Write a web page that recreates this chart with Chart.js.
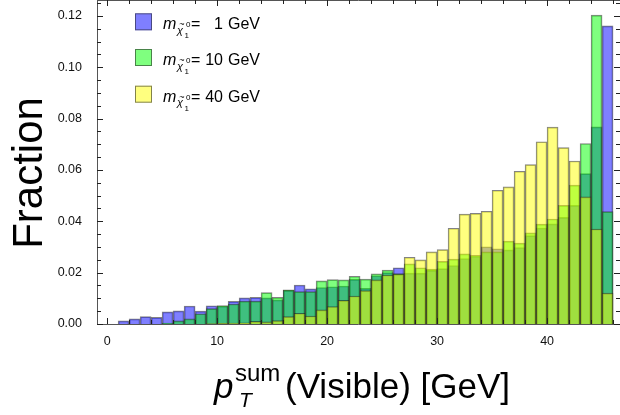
<!DOCTYPE html>
<html>
<head>
<meta charset="utf-8">
<script src="https://cdn.jsdelivr.net/npm/chart.js@4.4.0/dist/chart.umd.min.js"></script>
<style>
  html, body { margin: 0; padding: 0; background: #fff; }
</style>
</head>
<body>
<canvas id="histChart" width="620" height="415"></canvas>
<script>
// fraction of events per 1 GeV bin (bin k covers k..k+1 GeV)
const fracM1 = [
  0, 0.0012, 0.0020, 0.0029, 0.0026, 0.0047, 0.0051, 0.0070, 0.0050, 0.0071,
  0.0069, 0.0088, 0.0102, 0.0104, 0.0102, 0.0094, 0.0131, 0.0152, 0.0137, 0.0142,
  0.0145, 0.0148, 0.0174, 0.0139, 0.0188, 0.0200, 0.0219, 0.0198, 0.0198, 0.0209,
  0.0216, 0.0228, 0.0255, 0.0263, 0.0301, 0.0293, 0.0289, 0.0298, 0.0344, 0.0374,
  0.0390, 0.0415, 0.0462, 0.0586, 0.0768, 0.1161
];
const fracM10 = [
  0, 0, 0, 0, 0, 0.0004, 0.0012, 0.0020, 0.0040, 0.0060,
  0.0072, 0.0078, 0.0089, 0.0089, 0.0122, 0.0104, 0.0133, 0.0126, 0.0126, 0.0168,
  0.0173, 0.0172, 0.0186, 0.0175, 0.0195, 0.0210, 0.0196, 0.0234, 0.0219, 0.0214,
  0.0244, 0.0253, 0.0273, 0.0267, 0.0281, 0.0281, 0.0323, 0.0315, 0.0355, 0.0389,
  0.0409, 0.0462, 0.0541, 0.0703, 0.1203, 0.0438
];
const fracM40 = [
  0, 0, 0, 0, 0, 0, 0, 0, 0, 0.0002,
  0.0003, 0.0004, 0.0005, 0.0010, 0.0008, 0.0013, 0.0029, 0.0042, 0.0031, 0.0055,
  0.0068, 0.0092, 0.0109, 0.0130, 0.0172, 0.0191, 0.0194, 0.0260, 0.0250, 0.0281,
  0.0290, 0.0373, 0.0428, 0.0431, 0.0439, 0.0521, 0.0534, 0.0595, 0.0621, 0.0710,
  0.0767, 0.0687, 0.0635, 0.0495, 0.0370, 0.0120
];
const massLabels = ['1', '10', '40'];
const xTicks = [0, 10, 20, 30, 40];
const yTicks = [0, 0.02, 0.04, 0.06, 0.08, 0.10, 0.12];

const FONT = "'Liberation Sans', Arial, Helvetica, sans-serif";
const fills = ['rgba(0,0,255,0.5)', 'rgba(0,255,0,0.5)', 'rgba(255,255,0,0.5)'];
const edge = 'rgba(30,30,30,0.55)';

function toBars(arr) {
  return arr.map((v, i) => ({ x: i + 0.5, y: v > 0 ? v : null }));
}

function noPad(s) {
  s.paddingTop = 0;
  s.paddingBottom = 0;
  s.paddingLeft = 0;
  s.paddingRight = 0;
}

// frame with inward ticks, axis titles and legend
const decorations = {
  id: 'decorations',
  afterDatasetsDraw(chart) {
    const { ctx, chartArea: a, scales: { x, y } } = chart;
    ctx.save();
    ctx.strokeStyle = '#555';
    ctx.lineWidth = 1;
    ctx.beginPath();
    ctx.moveTo(a.left + 0.5, a.top + 0.5);
    ctx.lineTo(a.left + 0.5, a.bottom + 0.5);
    ctx.lineTo(a.right, a.bottom + 0.5);
    ctx.moveTo(a.left, a.top + 0.5);
    ctx.lineTo(a.right, a.top + 0.5);
    ctx.stroke();

    ctx.strokeStyle = '#222';
    ctx.beginPath();
    for (let v = 0; v <= 46; v += 2) {
      const px = Math.round(x.getPixelForValue(v)) + 0.5;
      const len = v % 10 === 0 ? 6 : 4;
      ctx.moveTo(px, a.bottom);
      ctx.lineTo(px, a.bottom - len);
      ctx.moveTo(px, a.top);
      ctx.lineTo(px, a.top + len);
    }
    for (let i = 0; i <= 25; i++) {
      const v = i * 0.005;
      const py = Math.round(y.getPixelForValue(v)) + 0.5;
      const len = i % 4 === 0 ? 6 : 4;
      ctx.moveTo(a.left, py);
      ctx.lineTo(a.left + len, py);
      ctx.moveTo(a.right, py);
      ctx.lineTo(a.right - len, py);
    }
    ctx.stroke();
    ctx.restore();
  },
  afterDraw(chart) {
    const { ctx } = chart;
    ctx.save();
    ctx.fillStyle = '#000';

    // y title
    ctx.save();
    ctx.translate(42, 173);
    ctx.rotate(-Math.PI / 2);
    ctx.font = '42px ' + FONT;
    ctx.textAlign = 'center';
    ctx.textBaseline = 'alphabetic';
    ctx.fillText('Fraction', 0, 0);
    ctx.restore();

    // x title: p_T^sum(Visible) [GeV]
    ctx.textAlign = 'left';
    ctx.textBaseline = 'alphabetic';
    ctx.font = 'italic 35px ' + FONT;
    ctx.fillText('p', 214, 398);
    ctx.font = '24px ' + FONT;
    ctx.fillText('sum', 235, 381);
    ctx.font = 'italic 21px ' + FONT;
    ctx.fillText('T', 239, 407);
    ctx.font = '35px ' + FONT;
    ctx.fillText('(Visible) [GeV]', 285, 398);

    // legend
    const rows = [29.3, 65, 101.7];
    rows.forEach((b, i) => {
      ctx.fillStyle = fills[i];
      ctx.fillRect(135, b - 16, 17, 17);
      ctx.strokeStyle = edge;
      ctx.lineWidth = 1;
      ctx.strokeRect(135.5, b - 15.5, 16, 16);

      ctx.fillStyle = '#000';
      ctx.textAlign = 'left';
      ctx.font = 'italic 16px ' + FONT;
      ctx.fillText('m', 163, b);
      ctx.font = 'italic 11px ' + FONT;
      ctx.fillText('\u03C7', 177, b + 4.5);
      ctx.font = '9px ' + FONT;
      ctx.textAlign = 'center';
      ctx.fillText('~', 182, b - 2);
      ctx.textAlign = 'left';
      ctx.font = '8px ' + FONT;
      ctx.fillText('1', 184.5, b + 9);
      ctx.fillText('0', 186, b - 2);
      ctx.font = '16px ' + FONT;
      ctx.fillText('=', 191, b);
      ctx.textAlign = 'right';
      ctx.fillText(massLabels[i], 223, b);
      ctx.textAlign = 'left';
      ctx.fillText('GeV', 228, b);
    });
    ctx.restore();
  }
};

const barBase = {
  type: 'bar',
  borderColor: edge,
  borderWidth: 1,
  borderSkipped: 'bottom',
  grouped: false,
  barPercentage: 1,
  categoryPercentage: 1
};

const ctx = document.getElementById('histChart').getContext('2d');

const histChart = new Chart(ctx, {
  type: 'bar',
  data: {
    datasets: [
      { ...barBase, label: 'm = 1 GeV', data: toBars(fracM1), backgroundColor: fills[0], order: 3 },
      { ...barBase, label: 'm = 10 GeV', data: toBars(fracM10), backgroundColor: fills[1], order: 2 },
      { ...barBase, label: 'm = 40 GeV', data: toBars(fracM40), backgroundColor: fills[2], order: 1 }
    ]
  },
  options: {
    responsive: false,
    animation: false,
    devicePixelRatio: 1,
    layout: { padding: 0 },
    plugins: {
      legend: { display: false },
      tooltip: { enabled: false }
    },
    scales: {
      x: {
        type: 'linear',
        offset: false,
        min: -0.92,
        max: 46.63,
        grid: { display: false, drawTicks: false },
        border: { display: false },
        afterBuildTicks: s => { s.ticks = xTicks.map(v => ({ value: v })); },
        afterFit: s => { s.height = 91; noPad(s); },
        ticks: {
          padding: 10,
          color: '#111',
          maxRotation: 0,
          autoSkip: false,
          font: { family: FONT, size: 12.5 },
          callback: v => String(v)
        }
      },
      y: {
        min: 0,
        max: 0.1262,
        grid: { display: false, drawTicks: false },
        border: { display: false },
        afterBuildTicks: s => { s.ticks = yTicks.map(v => ({ value: v })); },
        afterFit: s => { s.width = 97; noPad(s); },
        ticks: {
          padding: 15,
          color: '#111',
          font: { family: FONT, size: 12.5 },
          callback: v => v.toFixed(2)
        }
      }
    }
  },
  plugins: [decorations]
});
</script>
</body>
</html>
